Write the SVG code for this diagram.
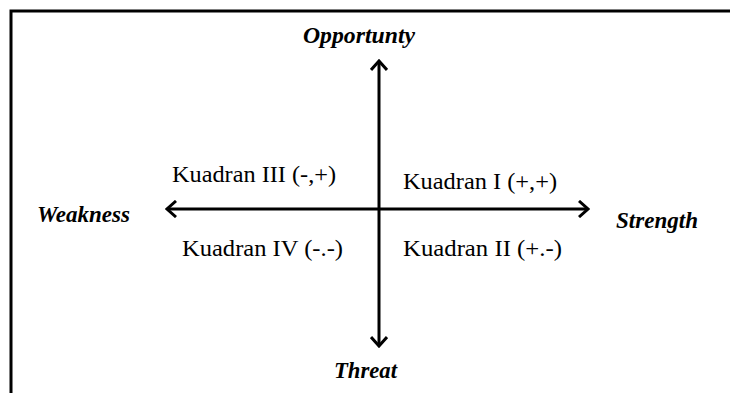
<svg xmlns="http://www.w3.org/2000/svg" width="730" height="393" viewBox="0 0 730 393">
<style>
.frame{stroke:#000;stroke-width:3;fill:none}
.axis{stroke:#000;stroke-width:3;fill:none}
.lbl{font-family:"Liberation Serif","Times New Roman",serif;font-size:23px;fill:#000}
.it{font-style:italic;font-weight:bold}
</style>
<defs>
<marker id="arr" viewBox="0 0 12 18" refX="10" refY="9" markerWidth="12" markerHeight="18" markerUnits="userSpaceOnUse" orient="auto">
<path d="M1,1 L10,9 L1,17" fill="none" stroke="#000" stroke-width="3"/>
</marker>
</defs>
<rect width="730" height="393" fill="#fff"/>
<path class="frame" d="M11,393 V11 H730"/>
<g id="connectors">
<line class="axis" x1="379" y1="209" x2="379" y2="61" marker-end="url(#arr)"/>
<line class="axis" x1="379" y1="209" x2="379" y2="346" marker-end="url(#arr)"/>
<line class="axis" x1="379" y1="209" x2="167" y2="209" marker-end="url(#arr)"/>
<line class="axis" x1="379" y1="209" x2="588" y2="209" marker-end="url(#arr)"/>
</g>
<g id="opportunity"><text class="lbl it" x="303" y="43" textLength="112" lengthAdjust="spacingAndGlyphs">Opportunty</text></g>
<g id="threat"><text class="lbl it" x="334" y="378" textLength="63" lengthAdjust="spacingAndGlyphs">Threat</text></g>
<g id="weakness"><text class="lbl it" x="37" y="222" textLength="93" lengthAdjust="spacingAndGlyphs">Weakness</text></g>
<g id="strength"><text class="lbl it" x="616" y="228" textLength="82" lengthAdjust="spacingAndGlyphs">Strength</text></g>
<g id="q3"><text class="lbl" x="172" y="182" textLength="164" lengthAdjust="spacingAndGlyphs">Kuadran III (-,+)</text></g>
<g id="q1"><text class="lbl" x="403" y="189" textLength="154" lengthAdjust="spacingAndGlyphs">Kuadran I (+,+)</text></g>
<g id="q4"><text class="lbl" x="182" y="256" textLength="161" lengthAdjust="spacingAndGlyphs">Kuadran IV (-.-)</text></g>
<g id="q2"><text class="lbl" x="403" y="256" textLength="159" lengthAdjust="spacingAndGlyphs">Kuadran II (+.-)</text></g>
</svg>
